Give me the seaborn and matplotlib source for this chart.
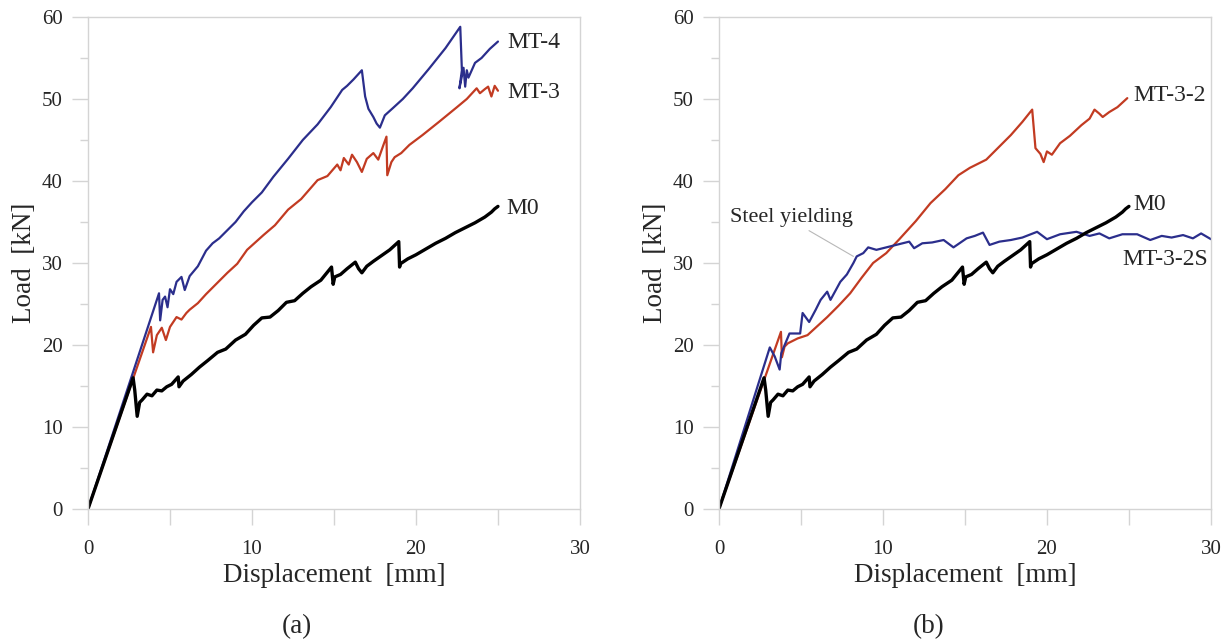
import numpy as np
import pandas as pd
import matplotlib
matplotlib.use('Agg')
import matplotlib.pyplot as plt
import seaborn as sns
from matplotlib.ticker import MultipleLocator, FuncFormatter

# Curves (displacement [mm], load [kN])
m0_x = [0, 2.75, 2.85, 3.0, 3.15, 3.3, 3.6, 3.9, 4.2, 4.5, 4.8, 5.1, 5.5, 5.55, 5.8,
        6.3, 6.8, 7.3, 7.9, 8.4, 9.0, 9.6, 10.1, 10.6, 11.1, 11.6, 12.1, 12.6, 13.1,
        13.6, 14.2, 14.85, 14.95, 15.05, 15.4, 15.8, 16.3, 16.5, 16.7, 17.0, 17.4,
        17.9, 18.4, 18.95, 19.0, 19.05, 19.5, 20.0, 20.6, 21.2, 21.8, 22.4, 23.0,
        23.6, 24.2, 24.6, 24.8, 25.0]
m0_y = [0, 16.0, 14.5, 11.3, 13.0, 13.3, 14.0, 13.8, 14.5, 14.4, 14.9, 15.2, 16.1,
        14.9, 15.6, 16.4, 17.3, 18.1, 19.1, 19.5, 20.6, 21.3, 22.4, 23.3, 23.4, 24.2,
        25.2, 25.4, 26.3, 27.1, 27.9, 29.5, 27.4, 28.3, 28.6, 29.3, 30.1, 29.3, 28.8,
        29.6, 30.2, 30.9, 31.6, 32.6, 29.5, 29.9, 30.5, 31.0, 31.7, 32.4, 33.0, 33.7,
        34.3, 34.9, 35.6, 36.2, 36.6, 36.9]

mt3_x = [0, 3.84, 3.97, 4.2, 4.5, 4.75, 5.0, 5.4, 5.7, 6.0, 6.2, 6.7, 7.2, 7.6, 7.9,
         8.5, 9.1, 9.7, 10.2, 10.7, 11.4, 12.2, 13.0, 14.0, 14.6, 15.2, 15.4, 15.6,
         15.9, 16.1, 16.4, 16.7, 17.0, 17.4, 17.7, 18.0, 18.2, 18.25, 18.5, 18.7,
         19.1, 19.6, 20.4, 21.4, 22.5, 23.1, 23.7, 23.9, 24.2, 24.4, 24.6, 24.8, 25.0]
mt3_y = [0, 22.2, 19.1, 21.2, 22.1, 20.6, 22.2, 23.4, 23.1, 23.9, 24.3, 25.1, 26.2,
         27.0, 27.6, 28.8, 29.9, 31.6, 32.5, 33.4, 34.6, 36.5, 37.8, 40.1, 40.6, 42.0,
         41.3, 42.8, 42.0, 43.2, 42.3, 41.1, 42.7, 43.4, 42.6, 44.3, 45.4, 40.7, 42.3,
         42.9, 43.4, 44.4, 45.6, 47.2, 49.0, 50.0, 51.3, 50.7, 51.2, 51.5, 50.3, 51.6,
         51.0]

mt4_x = [0, 4.33, 4.4, 4.55, 4.7, 4.85, 5.0, 5.2, 5.4, 5.7, 5.9, 6.2, 6.7, 7.2, 7.6,
         8.0, 8.5, 9.0, 9.5, 10.0, 10.6, 11.3, 12.2, 13.1, 14.0, 14.8, 15.5, 15.8,
         16.2, 16.7, 16.9, 17.1, 17.4, 17.6, 17.8, 18.1, 18.6, 19.2, 19.8, 20.8,
         21.8, 22.7, 22.8, 22.65, 22.9, 23.0, 23.1, 23.2, 23.6, 24.0, 24.5, 25.0]
mt4_y = [0, 26.3, 23.0, 25.5, 25.9, 24.6, 26.8, 26.2, 27.7, 28.3, 26.7, 28.4, 29.6,
         31.5, 32.4, 33.0, 34.0, 35.0, 36.3, 37.4, 38.6, 40.5, 42.7, 45.0, 46.9, 49.0,
         51.1, 51.6, 52.4, 53.5, 50.3, 48.8, 47.8, 47.0, 46.5, 48.0, 48.9, 50.0, 51.3,
         53.7, 56.2, 58.8, 53.5, 51.3, 53.8, 51.5, 53.5, 52.6, 54.4, 55.0, 56.1, 57.0]

mt32_x = [0, 3.78, 3.84, 4.0, 4.2, 4.8, 5.4, 6.0, 6.6, 7.3, 8.0, 8.7, 9.4, 10.2,
          11.0, 12.0, 12.9, 13.8, 14.6, 15.3, 15.7, 16.3, 17.0, 17.8, 18.5, 19.1,
          19.3, 19.6, 19.8, 20.0, 20.3, 20.8, 21.4, 22.1, 22.6, 22.9, 23.2, 23.4,
          23.8, 24.3, 24.9]
mt32_y = [0, 21.6, 18.5, 19.8, 20.2, 20.8, 21.2, 22.3, 23.4, 24.8, 26.3, 28.2, 30.0,
          31.2, 32.9, 35.1, 37.3, 39.0, 40.7, 41.6, 42.0, 42.6, 44.0, 45.6, 47.2, 48.7,
          44.0, 43.3, 42.3, 43.6, 43.2, 44.6, 45.5, 46.8, 47.6, 48.7, 48.2, 47.8, 48.4,
          49.0, 50.1]

mt32s_x = [0, 3.1, 3.4, 3.7, 3.8, 4.3, 4.95, 5.1, 5.5, 5.9, 6.2, 6.6, 6.8, 7.4, 7.8,
           8.2, 8.4, 8.8, 9.1, 9.6, 10.2, 10.8, 11.6, 11.9, 12.4, 13.0, 13.7, 14.3,
           15.1, 15.6, 16.1, 16.5, 17.1, 17.8, 18.5, 19.4, 20.0, 20.8, 21.8, 22.6,
           23.2, 23.8, 24.6, 25.5, 26.3, 27.0, 27.6, 28.3, 28.9, 29.4, 30.0]
mt32s_y = [0, 19.7, 18.6, 17.0, 19.0, 21.4, 21.4, 23.9, 22.8, 24.3, 25.5, 26.5, 25.5,
           27.7, 28.6, 30.0, 30.8, 31.2, 31.9, 31.6, 31.9, 32.2, 32.6, 31.8, 32.4, 32.5,
           32.8, 31.9, 33.0, 33.3, 33.7, 32.2, 32.6, 32.8, 33.1, 33.8, 32.9, 33.5, 33.8,
           33.3, 33.6, 33.0, 33.5, 33.5, 32.8, 33.3, 33.1, 33.4, 33.0, 33.6, 32.9]

COLORS = {'M0': '#000000', 'red': '#c23b22', 'blue': '#2b2e8c', 'frame': '#d4d4d4'}

sns.set_style('white')
plt.rcParams['font.family'] = ['Liberation Serif', 'DejaVu Serif']
plt.rcParams['font.size'] = 14


def curve(name, xs, ys):
    return pd.DataFrame({'disp': xs, 'load': ys, 'spec': name})


def style_axes(ax):
    ax.set_xlim(0, 30)
    ax.set_ylim(0, 60)
    ax.xaxis.set_major_locator(MultipleLocator(5))
    ax.yaxis.set_major_locator(MultipleLocator(10))
    ax.yaxis.set_minor_locator(MultipleLocator(5))
    ax.xaxis.set_major_formatter(FuncFormatter(lambda v, p: f'{v:.0f}' if v % 10 == 0 else ''))
    ax.tick_params(axis='x', which='major', bottom=True, length=11.5, width=1,
                   color=COLORS['frame'], labelsize=15, pad=11, direction='out')
    ax.tick_params(axis='y', which='major', left=True, length=11.5, width=1,
                   color=COLORS['frame'], labelsize=15, pad=6.5, direction='out')
    ax.tick_params(axis='y', which='minor', left=True, length=5.8, width=1,
                   color=COLORS['frame'], direction='out')
    for s in ax.spines.values():
        s.set_visible(True)
        s.set_color(COLORS['frame'])
        s.set_linewidth(1.0)
    ax.set_xlabel('Displacement  [mm]', fontsize=19.5, labelpad=3)
    ax.set_ylabel('Load  [kN]', fontsize=19.5, labelpad=4)
    ax.grid(False)


fig = plt.figure(figsize=(12.29, 6.42), dpi=100)
ax1 = fig.add_axes([0.0716, 0.2072, 0.4003, 0.7664])
ax2 = fig.add_axes([0.585, 0.2072, 0.4003, 0.7664])

# panel (a)
df_a = pd.concat([curve('M0', m0_x, m0_y), curve('MT-3', mt3_x, mt3_y),
                  curve('MT-4', mt4_x, mt4_y)])
sns.lineplot(data=df_a[df_a.spec != 'M0'], x='disp', y='load', hue='spec', sort=False,
             estimator=None, palette={'MT-3': COLORS['red'], 'MT-4': COLORS['blue']},
             linewidth=1.6, legend=False, ax=ax1)
sns.lineplot(data=df_a[df_a.spec == 'M0'], x='disp', y='load', sort=False, estimator=None,
             color=COLORS['M0'], linewidth=2.4, legend=False, ax=ax1)
style_axes(ax1)
ax1.text(25.55, 56.9, 'MT-4', fontsize=17, va='center')
ax1.text(25.55, 50.8, 'MT-3', fontsize=17, va='center')
ax1.text(25.5, 36.7, 'M0', fontsize=17, va='center')

# panel (b)
df_b = pd.concat([curve('M0', m0_x, m0_y), curve('MT-3-2', mt32_x, mt32_y),
                  curve('MT-3-2S', mt32s_x, mt32s_y)])
sns.lineplot(data=df_b[df_b.spec != 'M0'], x='disp', y='load', hue='spec', sort=False,
             estimator=None, palette={'MT-3-2': COLORS['red'], 'MT-3-2S': COLORS['blue']},
             linewidth=1.6, legend=False, ax=ax2)
sns.lineplot(data=df_b[df_b.spec == 'M0'], x='disp', y='load', sort=False, estimator=None,
             color=COLORS['M0'], linewidth=2.4, legend=False, ax=ax2)
style_axes(ax2)
ax2.text(25.3, 50.4, 'MT-3-2', fontsize=17, va='center')
ax2.text(25.25, 37.1, 'M0', fontsize=17, va='center')
ax2.text(24.6, 30.4, 'MT-3-2S', fontsize=17, va='center')
ax2.annotate('Steel yielding', xy=(8.2, 30.8), xytext=(0.65, 35.5), fontsize=16,
             va='center', ha='left',
             arrowprops=dict(arrowstyle='-', color='#b8b8b8', lw=0.8,
                             shrinkA=0, shrinkB=0, relpos=(0.6, 0.0)))

fig.text(0.2417, 0.024, '(a)', fontsize=19.5, ha='center', va='center')
fig.text(0.7556, 0.024, '(b)', fontsize=19.5, ha='center', va='center')

fig.savefig('out.png', dpi=100)
